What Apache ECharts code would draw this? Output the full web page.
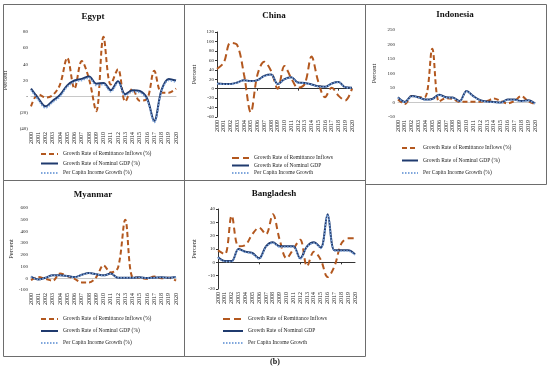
<!DOCTYPE html>
<html><head><meta charset="utf-8">
<script src="https://cdn.jsdelivr.net/npm/echarts@6/dist/echarts.min.js"></script>
<style>html,body{margin:0;padding:0;background:#fff}#c{width:550px;height:368px}</style>
</head><body><div id="c"></div>
<script>
const years = ['2000','2001','2002','2003','2004','2005','2006','2007','2008','2009','2010','2011','2012','2013','2014','2015','2016','2017','2018','2019','2020'];

const egyptRemit = [-12, 3, -1, 2, 15, 48, 10, 44, 22, -18, 74, 15, 34, -6, 10, -5, -3, 32, 5, 5, 10];
const egyptGdp   = [10, -2, -12, -5, 2, 14, 20, 22, 25, 16, 17, 8, 19, 3, 8, 7, -2, -30, 8, 22, 20];
const egyptPc    = [8, -4, -14, -7, 0, 12, 18, 20, 23, 14, 15, 6, 17, 1, 6, 5, -4, -32, 6, 20, 18];

const chinaRemit = [42, 55, 97, 92, 30, -50, 30, 57, 38, 0, 48, 22, 2, 10, 68, 15, -18, 2, -15, -25, 0];
const chinaGdp   = [11, 10, 10, 13, 18, 16, 18, 27, 30, 10, 20, 24, 13, 12, 9, 5, 4, 11, 14, 3, 2];
const chinaPc    = [10.4, 9.4, 9.4, 12.4, 17.4, 15.4, 17.4, 26.4, 29.4, 9.4, 19.4, 23.4, 12.4, 11.4, 8.4, 4.4, 3.4, 10.4, 13.4, 2.4, 1.4];

const indoRemit = [10, -5, 22, 18, 20, 185, 3, 15, 12, 2, 3, 3, 3, 5, 14, 5, -3, 5, 22, 5, -5];
const indoGdp   = [18, 2, 22, 18, 10, 12, 27, 18, 17, 5, 40, 22, 8, 3, 2, 0, 10, 10, 5, 8, -3];
const indoPc    = [16.5, 0.5, 20.5, 16.5, 8.5, 10.5, 25.5, 16.5, 15.5, 3.5, 38.5, 20.5, 6.5, 1.5, 0.5, -1.5, 8.5, 8.5, 3.5, 6.5, -4.5];

const myanRemit = [-15, 10, -5, -20, 40, 20, -5, -35, -35, 10, 110, 50, 90, 500, 10, 5, -5, 15, 0, 5, -20];
const myanGdp   = [15, -10, 5, 25, 25, 20, 10, 30, 45, 35, 25, 40, 5, 5, 5, 8, 3, 5, 8, 5, 12];
const myanPc    = [14, -11, 4, 24, 24, 19, 9, 29, 44, 34, 24, 39, 4, 4, 4, 7, 2, 4, 7, 4, 11];

const bangRemit = [9, 6, 35, 12, 13, 21, 26, 21, 36, 17, 3, 10, 17, -3, 8, 2, -11, -3, 14, 18, 18];
const bangGdp   = [4, 1, 1, 10, 8, 7, 3, 12, 15, 12, 12, 12, 3, 12, 15, 11, 36, 9, 9, 9, 6];
const bangPc    = [3.5, 0.5, 0.5, 9.5, 7.5, 6.5, 2.5, 11.5, 14.5, 11.5, 11.5, 11.5, 2.5, 11.5, 14.5, 10.5, 35.5, 8.5, 8.5, 8.5, 5.5];

const pctNames = ['Growth Rate of Remittance Inflows (%)', 'Growth Rate of Nominal GDP (%)', 'Per Capita Income Growth (%)'];
const plainNames = ['Growth Rate of Remittance Inflows', 'Growth Rate of Nominal GDP', 'Per Capita Income Growth'];

const titles = ['Egypt', 'China', 'Indonesia', 'Myanmar', 'Bangladesh'];
const yMin = [-40, -60, -50, -100, -20];
const yMax = [80, 120, 250, 600, 40];
const yStep = [20, 20, 50, 100, 10];

const FONT = "'Liberation Serif','Times New Roman',serif";
const C_REM = '#B3581F', C_GDP = '#1F3A6E', C_PC = '#7FA6DC';

const panels = [
  {data:[egyptRemit, egyptGdp, egyptPc], names:pctNames, grid:{left:31, top:32, width:145, height:97}, axisLine:false, nameGap:22, fmt:v => v < 0 ? '(' + (-v) + ')' : (v === 0 ? '-' : String(v)),
   legend:{left:40, top:150.5, itemWidth:17, itemGap:2.5}, title:[93, 17], dash:[5,3]},
  {data:[chinaRemit, chinaGdp, chinaPc], names:plainNames, grid:{left:217, top:32, width:135, height:85}, axisLine:true, nameGap:19, fmt:null,
   legend:{left:231, top:154.5, itemWidth:17, itemGap:0.5}, title:[274, 16], dash:[7,4]},
  {data:[indoRemit, indoGdp, indoPc], names:pctNames, grid:{left:398, top:30, width:137, height:87}, axisLine:false, nameGap:20, fmt:null,
   legend:{left:401, top:144.5, itemWidth:16, itemGap:5.5}, title:[455, 15], dash:[5,3]},
  {data:[myanRemit, myanGdp, myanPc], names:pctNames, grid:{left:31, top:208, width:145, height:82}, axisLine:false, nameGap:15, fmt:null,
   legend:{left:40, top:315.5, itemWidth:17, itemGap:5}, title:[93, 195], dash:[5,3]},
  {data:[bangRemit, bangGdp, bangPc], names:plainNames, grid:{left:218, top:209, width:137, height:80}, axisLine:true, nameGap:20, fmt:null,
   legend:{left:222, top:315.5, itemWidth:20, itemGap:5}, title:[274, 194], dash:[6,4]}
];

const grids = [], xAxes = [], yAxes = [], series = [], legends = [];

panels.forEach((p, i) => {
  grids.push(Object.assign({containLabel:false}, p.grid));
  xAxes.push({type:'category', gridIndex:i, data:years, boundaryGap:false, position:'top',
    axisLine:{show:true, onZero:true, lineStyle:{color: p.axisLine ? '#333' : '#c8c8c8', width:1}},
    axisTick:{show:p.axisLine, length:2, inside:true, lineStyle:{color:'#333'}},
    axisLabel:{show:false}, splitLine:{show:false}});
  xAxes.push({type:'category', gridIndex:i, data:years, boundaryGap:false, position:'bottom',
    axisLine:{show:false, onZero:false}, axisTick:{show:false},
    axisLabel:{show:true, rotate:90, interval:0, fontSize:6, fontFamily:FONT, color:'#222', margin:3},
    splitLine:{show:false}});
  yAxes.push({type:'value', gridIndex:i, min:yMin[i], max:yMax[i], interval:yStep[i],
    name:'Percent', nameLocation:'middle', nameRotate:90, nameGap:p.nameGap,
    nameTextStyle:{fontFamily:FONT, fontSize:6.5, color:'#222'},
    axisLine:{show:p.axisLine, lineStyle:{color:'#333', width:1}},
    axisTick:{show:p.axisLine, length:2, lineStyle:{color:'#333'}},
    axisLabel:{fontSize:5, fontFamily:FONT, color:'#222', margin:3, formatter:p.fmt || undefined},
    splitLine:{show:false}});
  const styles = [
    {color:C_REM, width:2, type:p.dash},
    {color:C_GDP, width:2, type:'solid'},
    {color:C_PC, width:1.6, type:[1.5,1.5]}
  ];
  p.data.forEach((arr, k) => {
    series.push({type:'line', name:p.names[k], xAxisIndex:2*i, yAxisIndex:i, data:arr,
      smooth:0.35, symbol:'none', lineStyle:styles[k], itemStyle:{color:styles[k].color},
      z:2+k, silent:true});
  });
  legends.push({data:p.names, orient:'vertical', left:p.legend.left, top:p.legend.top,
    itemWidth:p.legend.itemWidth, itemHeight:6, itemGap:p.legend.itemGap, padding:0,
    itemStyle:{color:'rgba(0,0,0,0)', borderColor:'rgba(0,0,0,0)', borderWidth:0, opacity:0},
    textStyle:{fontFamily:FONT, fontSize:5.5, color:'#222', lineHeight:7}, selectedMode:false});
});

const titleGraphics = panels.map((p, i) => ({type:'text', x:p.title[0], y:p.title[1],
  style:{text:titles[i], font:'bold 9px ' + FONT, fill:'#111', textAlign:'center', textVerticalAlign:'middle'}}));

const frames = [
  [3, 4, 181, 176], [184, 4, 181, 176], [365, 4, 181, 180],
  [3, 180, 181, 176], [184, 180, 181, 176]
].map(r => ({type:'rect', shape:{x:r[0]+0.5, y:r[1]+0.5, width:r[2], height:r[3]},
  style:{fill:null, stroke:'#6d6d6d', lineWidth:1}, z:100, silent:true}));

const option = {
  animation:false,
  backgroundColor:'#fff',
  grid:grids, xAxis:xAxes, yAxis:yAxes, series:series, legend:legends,
  graphic:[].concat(frames, titleGraphics, [{type:'text', x:275, y:362,
    style:{text:'(b)', font:'bold 8px ' + FONT, fill:'#111', textAlign:'center', textVerticalAlign:'middle'}}])
};

const chart = echarts.init(document.getElementById('c'), null, {renderer:'canvas'});
chart.setOption(option);
</script>
</body></html>
